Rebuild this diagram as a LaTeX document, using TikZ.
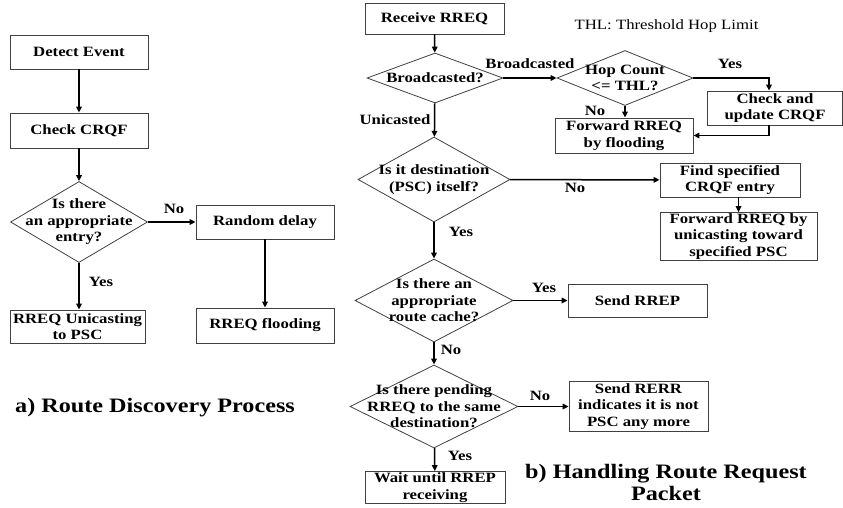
\documentclass[tikz,border=0pt]{standalone}
\usepackage{fontspec}
\setmainfont{Liberation Serif}[FakeStretch=1.18]
\usetikzlibrary{arrows.meta,shapes.geometric}

\begin{document}
\begin{tikzpicture}[x=1pt, y=-1pt,
  box/.style={draw=black!75, line width=0.8pt, align=center,
              inner xsep=2pt, inner ysep=1pt,
              font=\fontsize{14.2}{16.5}\selectfont\bfseries},
  dec/.style={diamond, draw=black!75, line width=0.8pt, inner sep=0pt},
  dtxt/.style={align=center, inner sep=0pt,
               font=\fontsize{14.2}{16.5}\selectfont\bfseries},
  lbl/.style={inner sep=0pt, font=\fontsize{14.2}{16.5}\selectfont\bfseries},
  ttl/.style={align=center, inner sep=0pt,
              font=\fontsize{20.5}{22}\selectfont\bfseries},
  arr/.style={-{Triangle[length=6pt,width=5.5pt]}, line width=1.5pt}]
\useasboundingbox (0,0) rectangle (843,508);

% a) route discovery
\node[box, minimum width=138pt, minimum height=34pt] (detect) at (79,52) {Detect Event};
\node[box, minimum width=138pt, minimum height=35pt] (check) at (79,130.5) {Check CRQF};
\node[dec, minimum width=137pt, minimum height=81pt,
      label={[dtxt]center:{Is there\\an appropriate\\entry?}}] (entry) at (79,222) {};
\node[box, minimum width=138pt, minimum height=34pt] (delay) at (265,222) {Random delay};
\node[box, minimum width=138pt, minimum height=35pt] (flood) at (265,325.5) {RREQ flooding};
\node[box, minimum width=135pt, minimum height=33pt] (unicast) at (77.5,326.5) {RREQ Unicasting\\to PSC};
\node[lbl] (noa) at (174,209) {No};
\node[lbl] (yesa) at (101,282) {Yes};
\node[ttl, anchor=west] (ttla) at (15,408) {a) Route Discovery Process};

\draw[arr] (detect) -- (check);
\draw[arr] (check) -- (entry);
\draw[arr] (entry) -- (delay);
\draw[arr] (delay) -- (flood);
\draw[arr] (entry.south) -- (entry.south |- unicast.north);

% b) handling RREQ
\node[box, minimum width=139pt, minimum height=31pt] (recv) at (434.5,18.5) {Receive RREQ};
\node[dec, minimum width=136pt, minimum height=50pt,
      label={[dtxt]center:{Broadcasted?}}] (bcast) at (435,78) {};
\node[dec, minimum width=136pt, minimum height=55pt,
      label={[dtxt]center:{Hop Count\\<= THL?}}] (hop) at (625,78) {};
\node[box, minimum width=135pt, minimum height=34pt] (update) at (775,108) {Check and\\update CRQF};
\node[box, minimum width=138pt, minimum height=35pt] (fwdflood) at (624,135.5) {Forward RREQ\\by flooding};
\node[dec, minimum width=152pt, minimum height=85pt,
      label={[dtxt]center:{Is it destination\\(PSC) itself?}}] (dest) at (434,179.5) {};
\node[box, minimum width=140pt, minimum height=34pt] (find) at (730,180) {Find specified\\CRQF entry};
\node[box, minimum width=157pt, minimum height=47pt] (fwduni) at (738.5,236.5) {Forward RREQ by\\unicasting toward\\specified PSC};
\node[dec, minimum width=158pt, minimum height=83pt,
      label={[dtxt]center:{Is there an\\appropriate\\route cache?}}] (cache) at (434,300.5) {};
\node[box, minimum width=139pt, minimum height=33pt] (rrep) at (637.5,300.5) {Send RREP};
\node[dec, minimum width=168pt, minimum height=83pt,
      label={[dtxt]center:{Is there pending\\RREQ to the same\\destination?}}] (pend) at (434,406.5) {};
\node[box, minimum width=139pt, minimum height=50pt] (rerr) at (638.5,406.5) {Send RERR\\indicates it is not\\PSC any more};
\node[box, minimum width=140pt, minimum height=32pt] (wait) at (435,487.5) {Wait until RREP\\receiving};

\node[inner sep=0pt, font=\fontsize{14.2}{16.5}\selectfont] (thl) at (666.5,26) {THL: Threshold Hop Limit};
\node[lbl] (lbcast) at (530,64) {Broadcasted};
\node[lbl] (lyeshop) at (730,64) {Yes};
\node[lbl] (lnohop) at (595,111) {No};
\node[lbl] (luni) at (395,120) {Unicasted};
\node[lbl] (lnodest) at (575,188) {No};
\node[lbl] (lyesdest) at (461,232) {Yes};
\node[lbl] (lyescache) at (544,288) {Yes};
\node[lbl] (lnocache) at (451,350) {No};
\node[lbl] (lnopend) at (540,396) {No};
\node[lbl] (lyespend) at (460,456) {Yes};
\node[ttl] (ttlb) at (666,482) {b) Handling Route Request\\Packet};

\draw[arr] (recv) -- (bcast);
\draw[arr] (bcast) -- (hop);
\draw[arr] (hop.east) -| ([xshift=-6pt]update.north);
\draw[arr] (hop.south) -- (hop.south |- fwdflood.north);
\draw[arr] ([xshift=-6pt]update.south) |- (fwdflood.east);
\draw[arr] (bcast) -- (dest);
\draw[arr] (dest) -- (find);
\draw[arr] (fwduni.north |- find.south) -- (fwduni.north);
\draw[arr] (dest) -- (cache);
\draw[arr] (cache) -- (rrep);
\draw[arr] (cache) -- (pend);
\draw[arr] (pend) -- (rerr);
\draw[arr] (pend) -- (wait);
\end{tikzpicture}
\end{document}
